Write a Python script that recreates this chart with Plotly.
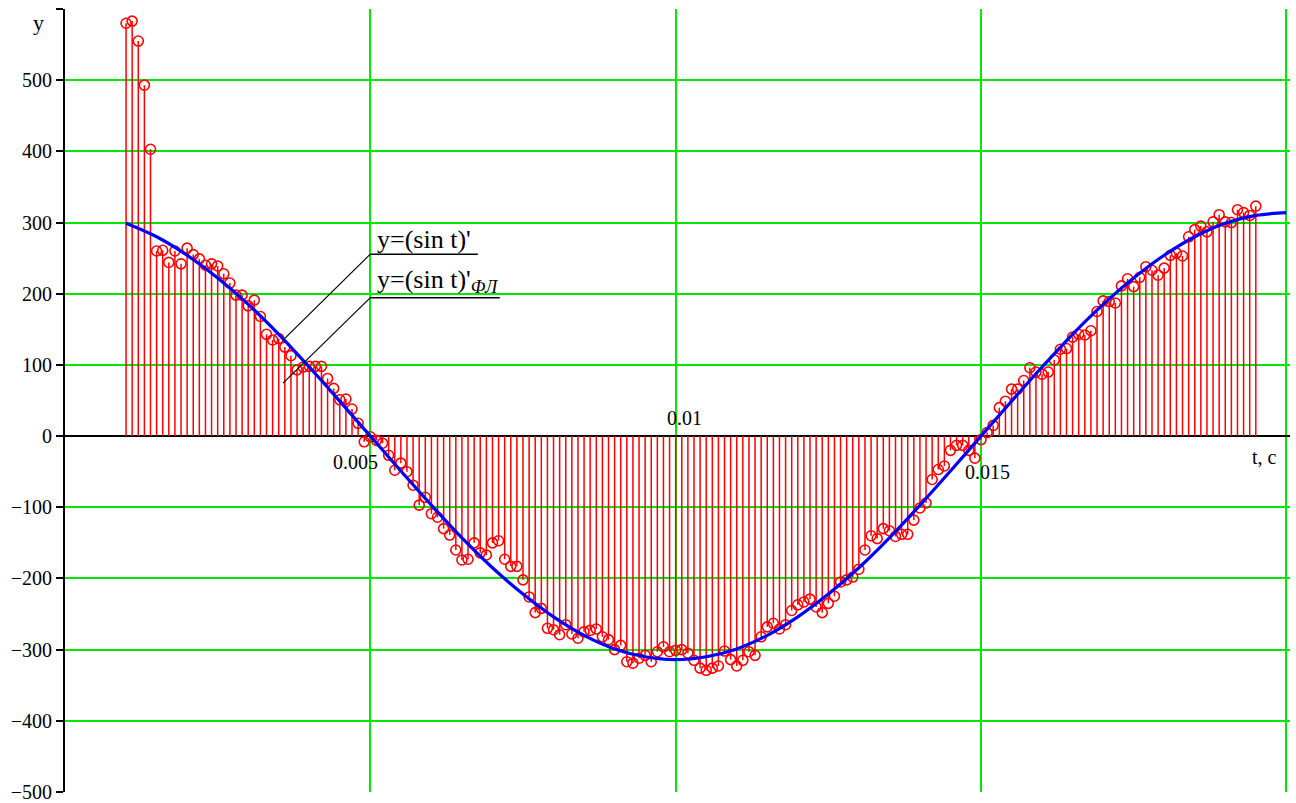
import numpy as np
import plotly.graph_objects as go

# Sampling grid of the filtered derivative (seconds)
T_START = 0.001
T_STEP = 0.0001

# y = (sin t)'_ФЛ : filtered derivative samples, one per stem
y_filtered = [
    580, 583, 555, 493, 403, 260, 261, 244, 260, 242,
    264, 255, 249, 240, 242, 239, 228, 215, 198, 198,
    183, 191, 168, 143, 135, 137, 125, 113, 93, 97,
    98, 98, 98, 81, 67, 51, 52, 38, 18, -8,
    -1, -6, -10, -27, -48, -38, -50, -69, -97, -86,
    -109, -114, -130, -139, -160, -174, -173, -150, -164, -167,
    -150, -147, -173, -183, -183, -202, -226, -248, -242, -270,
    -272, -279, -265, -278, -284, -275, -273, -271, -282, -286,
    -300, -294, -317, -319, -312, -308, -317, -303, -296, -303,
    -301, -300, -305, -315, -326, -329, -326, -323, -302, -314,
    -323, -315, -303, -308, -282, -268, -263, -271, -265, -245,
    -237, -233, -229, -240, -248, -235, -225, -205, -202, -198,
    -187, -160, -140, -144, -130, -133, -141, -138, -138, -118,
    -101, -94, -61, -47, -42, -20, -13, -13, -20, -31,
    -5, 5, 15, 40, 49, 66, 66, 78, 96, 90,
    87, 90, 107, 122, 123, 139, 143, 142, 148, 175,
    190, 189, 187, 211, 221, 210, 223, 238, 233, 226,
    236, 254, 257, 253, 280, 290, 295, 287, 301, 311,
    301, 300, 318, 314, 310, 323,
]

# y = (sin t)' : exact derivative
t_exact = [
    0.0010, 0.0015, 0.0020, 0.0025, 0.0030, 0.0035, 0.0040, 0.0045, 0.0050, 0.0055,
    0.0060, 0.0065, 0.0070, 0.0075, 0.0080, 0.0085, 0.0090, 0.0095, 0.0100, 0.0105,
    0.0110, 0.0115, 0.0120, 0.0125, 0.0130, 0.0135, 0.0140, 0.0145, 0.0150, 0.0155,
    0.0160, 0.0165, 0.0170, 0.0175, 0.0180, 0.0185, 0.0190, 0.0195, 0.0200,
]
y_exact = [
    299, 280, 254, 222, 185, 143, 97, 49, 0, -49,
    -97, -143, -185, -222, -254, -280, -299, -310, -314, -310,
    -299, -280, -254, -222, -185, -143, -97, -49, 0, 49,
    97, 143, 185, 222, 254, 280, 299, 310, 314,
]

y_ticks = [-500, -400, -300, -200, -100, 0, 100, 200, 300, 400, 500, 600]
y_tick_text = ["\u2212500", "\u2212400", "\u2212300", "\u2212200", "\u2212100",
               "0", "100", "200", "300", "400", "500", " "]
x_grid = [0.005, 0.01, 0.015, 0.02]

legend_exact = "y=(sin t)'"
legend_filtered = "y=(sin t)'<sub><i>ФЛ</i></sub>"

FONT = "Liberation Serif"
GRID = "rgb(0,232,0)"
RED = "#ff0000"
BLUE = "#0000ff"

t_samples = np.round(T_START + T_STEP * np.arange(len(y_filtered)), 5)

# stems: vertical segments from zero to each sample
stem_x, stem_y = [], []
for t, v in zip(t_samples, y_filtered):
    stem_x += [t, t, None]
    stem_y += [0, v, None]

fig = go.Figure()
fig.add_trace(go.Scatter(x=stem_x, y=stem_y, mode="lines",
                         line=dict(color=RED, width=1.5),
                         hoverinfo="skip", showlegend=False))
fig.add_trace(go.Scatter(x=t_samples, y=y_filtered, mode="markers",
                         marker=dict(symbol="circle-open", size=10, color=RED,
                                     line=dict(width=1.6, color=RED)),
                         showlegend=False))
fig.add_trace(go.Scatter(x=t_exact, y=y_exact, mode="lines",
                         line=dict(color=BLUE, width=3.2, shape="spline"),
                         showlegend=False))

# legend block: labels, underlines and leader lines
ul1_y, ul2_y = 255.6, 194.5
fig.add_shape(type="line", x0=0.005, x1=0.00676, y0=ul1_y, y1=ul1_y,
              line=dict(color="black", width=1.5))
fig.add_shape(type="line", x0=0.005, x1=0.00712, y0=ul2_y, y1=ul2_y,
              line=dict(color="black", width=1.5))
fig.add_shape(type="line", x0=0.005, x1=0.00357, y0=ul1_y, y1=134.9,
              line=dict(color="black", width=1.2))
fig.add_shape(type="line", x0=0.005, x1=0.00357, y0=ul2_y, y1=74.5,
              line=dict(color="black", width=1.2))

ann_font = dict(family=FONT, size=20, color="black")
annotations = [
    dict(x=0.00508, y=276, text=legend_exact, xanchor="left", yanchor="middle",
         font=dict(family=FONT, size=26, color="black")),
    dict(x=0.00508, y=218, text=legend_filtered, xanchor="left", yanchor="middle",
         font=dict(family=FONT, size=26, color="black")),
    dict(x=0.00475, y=-36.5, text="0.005", xanchor="center", yanchor="middle", font=ann_font),
    dict(x=0.01014, y=25.3, text="0.01", xanchor="center", yanchor="middle", font=ann_font),
    dict(x=0.0151, y=-50.6, text="0.015", xanchor="center", yanchor="middle", font=ann_font),
    dict(x=0.01965, y=-29.5, text="t, c", xanchor="center", yanchor="middle", font=ann_font),
    dict(x=-0.022, y=0.983, xref="paper", yref="paper", text="y",
         xanchor="center", yanchor="middle", font=dict(family=FONT, size=22, color="black")),
]
for a in annotations:
    a.setdefault("xref", "x")
    a.setdefault("yref", "y")
    a["showarrow"] = False
fig.update_layout(annotations=annotations)

fig.update_layout(
    width=1296, height=803,
    margin=dict(l=65, r=6, t=9, b=11, autoexpand=False),
    paper_bgcolor="white", plot_bgcolor="white",
    xaxis=dict(range=[0, 0.02006], tickvals=x_grid, showticklabels=False,
               showgrid=True, gridcolor=GRID, gridwidth=2, automargin=False,
               zeroline=False, showline=False, ticks=""),
    yaxis=dict(range=[-500, 600], tickvals=y_ticks, ticktext=y_tick_text,
               showgrid=True, gridcolor=GRID, gridwidth=2, automargin=False,
               zeroline=True, zerolinecolor="black", zerolinewidth=2,
               showline=True, linecolor="black", linewidth=2,
               ticks="outside", ticklen=7, tickwidth=2, tickcolor="black",
               tickfont=dict(family=FONT, size=20, color="black")),
)

fig.write_html("out.html")
